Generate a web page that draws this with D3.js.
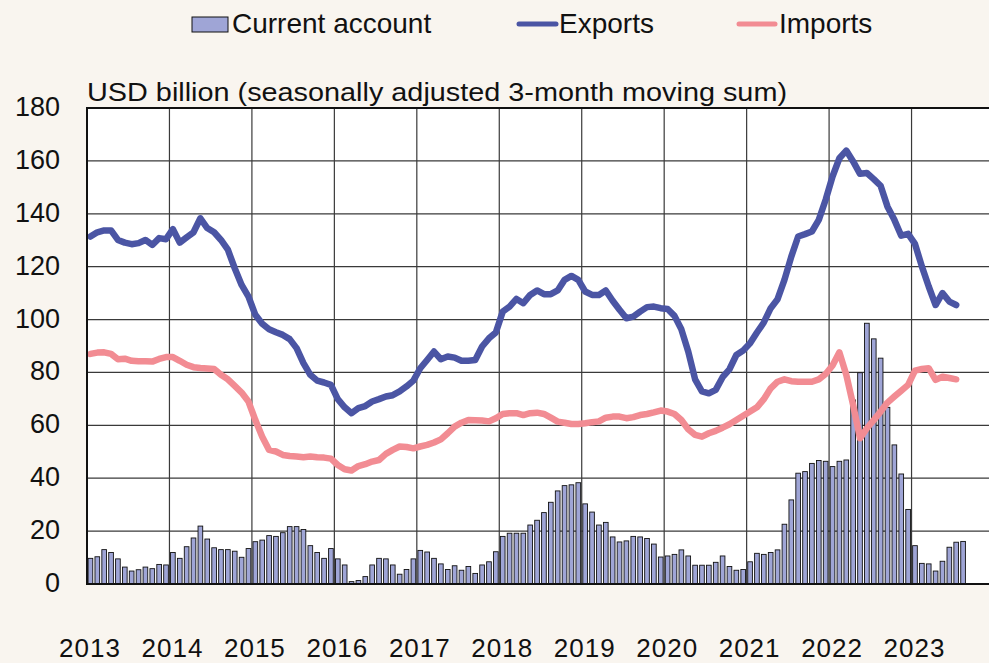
<!DOCTYPE html>
<html>
<head>
<meta charset="utf-8">
<script src="https://cdn.jsdelivr.net/npm/d3@7"></script>
<style>
  html, body { margin: 0; padding: 0; background: #f9f5ef; }
  svg { display: block; font-family: "Liberation Sans", Arial, sans-serif; }
</style>
</head>
<body>
<script>
var width = 989, height = 663

// monthly, Jan 2013 onwards
var years = [2013, 2014, 2015, 2016, 2017, 2018, 2019, 2020, 2021, 2022, 2023]
var yTicks = [0, 20, 40, 60, 80, 100, 120, 140, 160, 180]

var currentAccount = [
  9.7, 10.3, 13.0, 11.9, 9.5, 6.4, 4.9, 5.4, 6.4, 5.8, 7.4, 7.2,
  11.9, 9.7, 14.1, 17.4, 21.9, 17.0, 13.7, 13.0, 13.0, 12.4, 10.1, 13.4,
  16.0, 16.6, 18.3, 18.0, 19.4, 21.7, 21.7, 20.6, 14.5, 11.9, 9.7, 13.4,
  9.5, 7.2, 0.9, 1.3, 2.8, 7.2, 9.7, 9.5, 7.2, 3.7, 5.5, 9.5,
  12.7, 12.1, 9.7, 7.6, 5.5, 6.9, 5.2, 6.6, 4.0, 7.2, 8.4, 12.2,
  18.0, 19.2, 19.2, 19.2, 22.3, 24.1, 27.0, 30.9, 35.2, 37.2, 37.5, 38.3,
  30.3, 27.2, 22.3, 23.3, 17.8, 15.9, 16.3, 18.0, 17.8, 17.2, 15.1, 10.2,
  10.6, 11.2, 12.9, 10.6, 7.1, 7.1, 7.1, 8.2, 10.6, 6.6, 5.2, 5.5,
  8.4, 11.6, 11.2, 11.9, 12.9, 22.6, 31.8, 41.9, 42.5, 45.6, 46.7, 46.4,
  44.4, 46.4, 46.9, 69.6, 79.9, 98.6, 92.7, 85.4, 66.8, 52.6, 41.6, 28.2,
  14.5, 7.8, 7.6, 4.9, 8.6, 13.9, 15.8, 16.1
]

var exportsData = [
  131.4, 133.0, 133.7, 133.7, 130.1, 129.1, 128.5, 128.9, 130.1, 128.2, 130.8, 130.4,
  134.2, 129.1, 131.1, 133.0, 138.3, 134.6, 133.0, 130.1, 126.4, 119.4, 113.1, 108.7,
  101.8, 98.4, 96.3, 95.2, 94.2, 92.6, 89.2, 83.5, 79.1, 76.9, 76.2, 75.3,
  69.9, 66.8, 64.6, 66.5, 67.3, 69.0, 69.9, 70.9, 71.4, 72.8, 74.7, 76.9,
  81.6, 84.7, 87.9, 85.0, 86.0, 85.6, 84.4, 84.4, 84.7, 89.8, 92.9, 95.1,
  103.0, 104.9, 107.8, 106.2, 109.3, 111.0, 109.6, 109.6, 111.0, 115.0, 116.5, 115.0,
  110.6, 109.3, 109.3, 111.0, 107.1, 103.7, 100.5, 101.1, 103.0, 104.7, 104.9, 104.3,
  104.0, 101.4, 96.3, 87.9, 77.4, 72.8, 72.1, 73.4, 78.2, 81.2, 86.6, 88.3,
  91.0, 95.1, 98.9, 104.3, 107.7, 115.0, 123.8, 131.4, 132.3, 133.3, 137.7, 145.3,
  154.1, 161.0, 163.9, 159.8, 155.1, 155.4, 153.1, 150.6, 142.7, 137.7, 131.7, 132.4,
  128.6, 120.1, 112.5, 105.5, 110.0, 106.8, 105.5
]

var importsData = [
  87.0, 87.5, 87.6, 87.0, 85.0, 85.2, 84.4, 84.2, 84.2, 84.1, 85.1, 85.8,
  85.8, 84.4, 82.9, 82.0, 81.7, 81.5, 81.3, 79.1, 77.4, 74.9, 72.4, 69.0,
  62.0, 55.7, 50.7, 50.1, 48.8, 48.4, 48.2, 47.9, 48.2, 47.9, 47.8, 47.4,
  45.0, 43.4, 42.9, 44.6, 45.3, 46.3, 46.9, 49.2, 50.7, 52.0, 51.8, 51.3,
  52.0, 52.6, 53.5, 54.7, 57.0, 59.5, 61.0, 62.0, 61.9, 61.8, 61.5, 62.7,
  64.3, 64.6, 64.6, 63.9, 64.6, 64.8, 64.3, 62.9, 61.4, 61.0, 60.5, 60.5,
  60.8, 61.2, 61.5, 62.9, 63.3, 63.3, 62.7, 63.1, 63.9, 64.3, 64.9, 65.6,
  65.2, 64.3, 62.0, 58.5, 56.4, 55.7, 57.0, 57.9, 59.1, 60.4, 62.0, 63.6,
  65.2, 66.8, 69.9, 74.0, 76.5, 77.4, 76.7, 76.5, 76.5, 76.5, 77.4, 79.4,
  82.6, 87.6, 79.1, 67.7, 55.1, 58.9, 62.0, 65.2, 68.6, 70.9, 73.1, 75.3,
  80.7, 81.3, 81.6, 77.2, 78.4, 77.9, 77.4
]

var barColor = "#9fa5d6", expColor = "#4b55a4", impColor = "#f28c93"

var plotL = 87, plotT = 108, plotB = 584, plotR = 994

// x in months since Jan 2013, 11 years wide (plot runs past the picture edge)
var x = d3.scaleLinear().domain([0, 132]).range([plotL, plotR])
var y = d3.scaleLinear().domain([0, 180]).range([plotB, plotT])

var svg = d3.select("body").append("svg")
    .attr("width", width)
    .attr("height", height)

svg.append("rect") //PLOT BG
    .attr("x", plotL).attr("y", plotT)
    .attr("width", plotR - plotL).attr("height", plotB - plotT)
    .attr("fill", "white")

svg.selectAll(".hgrid")
    .data(yTicks.slice(1, -1))
  .enter().append("line")
    .attr("x1", plotL).attr("x2", plotR)
    .attr("y1", function(d) { return y(d) }).attr("y2", function(d) { return y(d) })
    .attr("stroke", "#3a3a3a").attr("stroke-width", 1.2)

svg.selectAll(".vgrid")
    .data(years.slice(1))
  .enter().append("line")
    .attr("x1", function(d) { return x((d - 2013) * 12) })
    .attr("x2", function(d) { return x((d - 2013) * 12) })
    .attr("y1", plotT).attr("y2", plotB)
    .attr("stroke", "#3a3a3a").attr("stroke-width", 1.2)

var slot = x(1) - x(0), bw = slot * 0.68

svg.selectAll(".bar") //CURRENT ACCOUNT
    .data(currentAccount)
  .enter().append("rect")
    .attr("x", function(d, i) { return x(i + 0.5) - bw / 2 })
    .attr("y", function(d) { return y(d) })
    .attr("width", bw)
    .attr("height", function(d) { return y(0) - y(d) })
    .attr("fill", barColor)
    .attr("stroke", "#111").attr("stroke-width", 0.9)

var line = d3.line()
    .x(function(d, i) { return x(i + 0.5) })
    .y(function(d) { return y(d) })

svg.append("path") //IMPORTS
    .datum(importsData)
    .attr("d", line)
    .attr("fill", "none").attr("stroke", impColor)
    .attr("stroke-width", 6.5).attr("stroke-linejoin", "round").attr("stroke-linecap", "round")

svg.append("path") //EXPORTS
    .datum(exportsData)
    .attr("d", line)
    .attr("fill", "none").attr("stroke", expColor)
    .attr("stroke-width", 6.5).attr("stroke-linejoin", "round").attr("stroke-linecap", "round")

// frame
svg.append("path")
    .attr("d", "M" + plotR + "," + plotT + "H" + plotL + "V" + plotB + "H" + plotR)
    .attr("fill", "none").attr("stroke", "#111").attr("stroke-width", 2)

svg.selectAll(".ytick")
    .data(yTicks)
  .enter().append("text")
    .text(function(d) { return d })
    .attr("x", 60)
    .attr("y", function(d) { return y(d) + 8 })
    .attr("text-anchor", "end")
    .attr("font-size", 27)
    .attr("fill", "#111")

svg.selectAll(".xtick")
    .data(years)
  .enter().append("text")
    .text(function(d) { return d })
    .attr("x", function(d) { return x((d - 2013) * 12) + 3 })
    .attr("y", 657)
    .attr("text-anchor", "middle")
    .attr("font-size", 26)
    .attr("letter-spacing", 1)
    .attr("fill", "#111")

svg.append("text")
    .text("USD billion (seasonally adjusted 3-month moving sum)")
    .attr("x", plotL)
    .attr("y", 101)
    .attr("font-size", 25.5)
    .attr("textLength", 700)
    .attr("lengthAdjust", "spacingAndGlyphs")
    .attr("fill", "#111")

// legend
svg.append("rect")
    .attr("x", 192).attr("y", 17).attr("width", 36).attr("height", 15)
    .attr("fill", barColor).attr("stroke", "#111").attr("stroke-width", 1)
svg.append("text").text("Current account")
    .attr("x", 232).attr("y", 33).attr("font-size", 28).attr("fill", "#111")

svg.append("line")
    .attr("x1", 519).attr("x2", 556).attr("y1", 24).attr("y2", 24)
    .attr("stroke", expColor).attr("stroke-width", 5).attr("stroke-linecap", "round")
svg.append("text").text("Exports")
    .attr("x", 559).attr("y", 33).attr("font-size", 28).attr("fill", "#111")

svg.append("line")
    .attr("x1", 739).attr("x2", 775).attr("y1", 24).attr("y2", 24)
    .attr("stroke", impColor).attr("stroke-width", 5).attr("stroke-linecap", "round")
svg.append("text").text("Imports")
    .attr("x", 779).attr("y", 33).attr("font-size", 28).attr("fill", "#111")
</script>
</body>
</html>
